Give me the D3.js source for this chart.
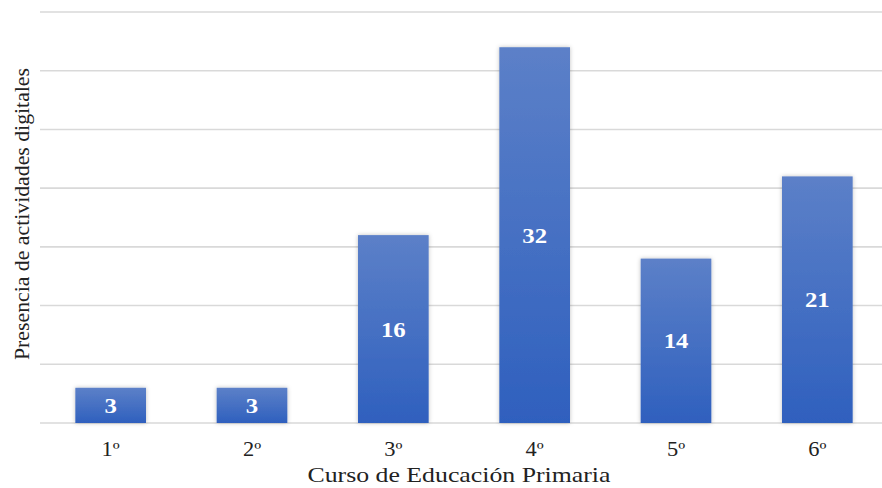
<!DOCTYPE html>
<html>
<head>
<meta charset="utf-8">
<script src="https://cdn.jsdelivr.net/npm/d3@7"></script>
<style>
  body { margin: 0; background: #fff; }
  svg { display: block; font-family: "Liberation Serif", "Times New Roman", serif; }
</style>
</head>
<body>
<div id="chart"></div>
<script>
// data
var cursos = ["1º", "2º", "3º", "4º", "5º", "6º"];
var valores = [3, 3, 16, 32, 14, 21];
var yTicks = [0, 5, 10, 15, 20, 25, 30, 35];

var W = 882, H = 488;
var margin = {top: 12, right: -6, bottom: 65, left: 40};
var height = H - margin.top - margin.bottom;
var stretch = 1.18; // the reference text is a bit wide

var svg = d3.select("#chart").append("svg")
  .attr("width", W)
  .attr("height", H);

var defs = svg.append("defs");
var grad = defs.append("linearGradient")
  .attr("id", "barGrad")
  .attr("x1", 0).attr("y1", 0).attr("x2", 0).attr("y2", 1);
grad.append("stop").attr("offset", "0%").attr("stop-color", "#5c80c8");
grad.append("stop").attr("offset", "100%").attr("stop-color", "#2f60be");

var shadow = defs.append("filter").attr("id", "shadow")
  .attr("x", "-20%").attr("y", "-20%").attr("width", "140%").attr("height", "140%");
shadow.append("feDropShadow")
  .attr("dx", 0).attr("dy", 0).attr("stdDeviation", 2)
  .attr("flood-color", "#000").attr("flood-opacity", 0.25);

var x = d3.scaleBand()
  .domain(cursos)
  .range([margin.left, W - margin.right])
  .paddingInner(0.5)
  .paddingOuter(0.25);

var y = d3.scaleLinear()
  .domain([0, 35])
  .range([margin.top + height, margin.top]);

// gridlines
svg.append("g")
  .selectAll("line")
  .data(yTicks)
  .enter()
  .append("line")
  .attr("x1", margin.left)
  .attr("x2", W)
  .attr("y1", d => y(d))
  .attr("y2", d => y(d))
  .attr("stroke", "#d9d9d9")
  .attr("stroke-width", 1.6);

// bars
svg.append("g")
  .selectAll("rect")
  .data(valores)
  .enter()
  .append("rect")
  .attr("x", (d, i) => x(cursos[i]))
  .attr("y", d => y(d))
  .attr("width", x.bandwidth())
  .attr("height", d => y(0) - y(d))
  .attr("fill", "url(#barGrad)")
  .attr("filter", "url(#shadow)");

// value labels
svg.append("g")
  .selectAll("text")
  .data(valores)
  .enter()
  .append("text")
  .attr("transform", (d, i) => "translate(" + (x(cursos[i]) + x.bandwidth() / 2) + "," +
        ((y(d) + y(0)) / 2 + 7.5) + ") scale(" + stretch + ",1)")
  .attr("text-anchor", "middle")
  .attr("fill", "#fff")
  .attr("font-weight", "bold")
  .attr("font-size", "21px")
  .text(d => d);

// x axis
var xAxis = svg.append("g")
  .attr("transform", "translate(0," + y(0) + ")")
  .call(d3.axisBottom(x).tickSize(0).tickPadding(0));
xAxis.select(".domain").remove();
xAxis.selectAll("text")
  .attr("dy", null)
  .attr("y", null)
  .attr("transform", "translate(0,33) scale(1.12,1)")
  .attr("font-family", "Liberation Serif, Times New Roman, serif")
  .attr("font-size", "20px")
  .attr("fill", "#222");

// axis titles
svg.append("text")
  .attr("x", 459)
  .attr("y", 482)
  .attr("text-anchor", "middle")
  .attr("font-size", "22px")
  .attr("textLength", 303)
  .attr("lengthAdjust", "spacingAndGlyphs")
  .attr("fill", "#222")
  .text("Curso de Educación Primaria");

svg.append("text")
  .attr("transform", "rotate(-90)")
  .attr("x", -214)
  .attr("y", 29)
  .attr("text-anchor", "middle")
  .attr("font-size", "20px")
  .attr("textLength", 292)
  .attr("lengthAdjust", "spacingAndGlyphs")
  .attr("fill", "#222")
  .text("Presencia de actividades digitales");
</script>
</body>
</html>
